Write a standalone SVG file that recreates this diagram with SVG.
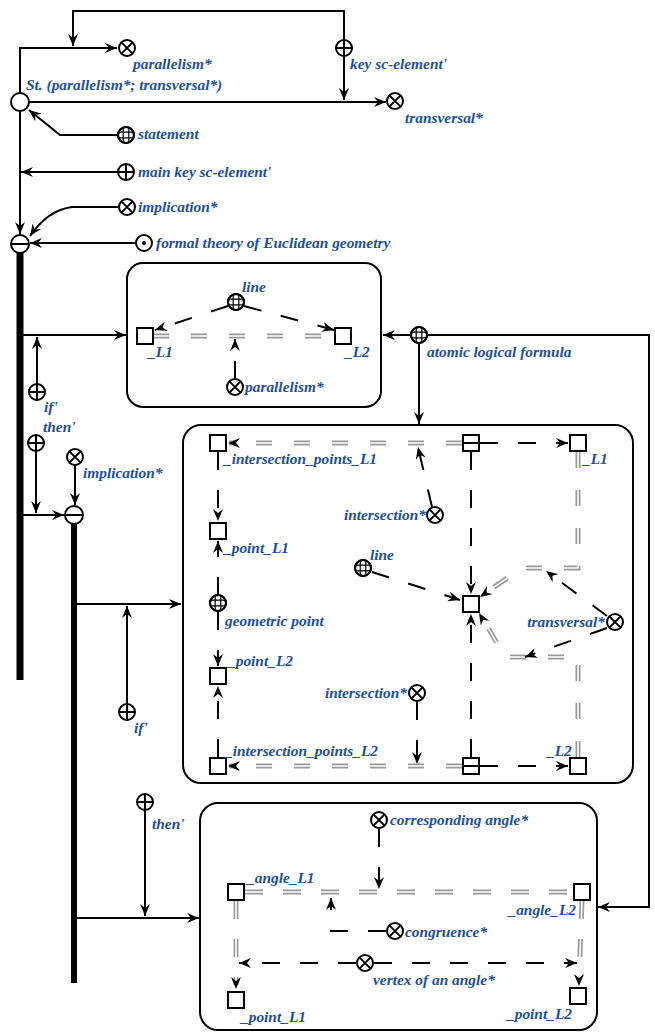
<svg xmlns="http://www.w3.org/2000/svg" xmlns:xlink="http://www.w3.org/1999/xlink" width="655" height="1034" viewBox="0 0 655 1034">
<style>
.ln{stroke:#000;stroke-width:2;fill:none}
.d{stroke-dasharray:18 20}
.gd{stroke-dasharray:16 22}
.g1{stroke:#999;stroke-width:5;fill:none}
.g2{stroke:#fff;stroke-width:1.6;fill:none}
.thick{stroke:#000;stroke-width:7;fill:none}
.box{fill:none;stroke:#000;stroke-width:2}
.nd{fill:#fff;stroke:#000;stroke-width:2}
.in{fill:none;stroke:#000;stroke-width:2}
.gr{fill:none;stroke:#000;stroke-width:1.2}
.t{font-family:"Liberation Serif",serif;font-style:italic;font-weight:bold;font-size:15.4px;fill:#1d4f9e}
.e{text-anchor:end}
.ah{stroke:none;fill:none}
</style>
<defs>
<marker id="a" viewBox="0 0 12 10" markerWidth="12" markerHeight="10" refX="12" refY="5" orient="auto" markerUnits="userSpaceOnUse">
<path d="M0,0 L12,5 L0,10 L4,5 z" fill="#000"/>
</marker>
<clipPath id="cc"><circle r="8"/></clipPath>
<g id="cx"><circle r="8" class="nd"/><path d="M-5.6,-5.6 L5.6,5.6 M5.6,-5.6 L-5.6,5.6" class="in"/></g>
<g id="cp"><circle r="8" class="nd"/><path d="M-8,0 H8 M0,-8 V8" class="in"/></g>
<g id="cg"><circle r="8" class="nd"/><path d="M-8,-2.8 H8 M-8,2.8 H8 M-2.8,-8 V8 M2.8,-8 V8" class="gr" clip-path="url(#cc)"/><circle r="8" fill="none" stroke="#000" stroke-width="2"/></g>
<g id="cd"><circle r="8" class="nd"/><circle r="2" fill="#000"/></g>
<g id="cm"><circle r="9" class="nd"/><path d="M-9,0 H9" class="in"/></g>
<g id="sq"><rect x="-8" y="-8" width="16" height="16" class="nd"/></g>
<g id="sqm"><rect x="-8" y="-8" width="16" height="16" class="nd"/><path d="M-8,0 H8" class="in"/></g>
</defs>

<g id="connectors">
<!-- top area -->
<path class="ln" d="M20,93 V48 H117" marker-end="url(#a)"/>
<path class="ln" d="M344,40 V11 H73 V46" marker-end="url(#a)"/>
<path class="ln" d="M29,102 H386" marker-end="url(#a)"/>
<path class="ln" d="M344,56 V100" marker-end="url(#a)"/>
<path class="ln" d="M118,135 H60 L29,110" marker-end="url(#a)"/>
<path class="ln" d="M118,172 H21" marker-end="url(#a)"/>
<path class="ln" d="M20,111 V234" marker-end="url(#a)"/>
<path class="ln" d="M119,207 H72 Q48,210 30,236" marker-end="url(#a)"/>
<path class="ln" d="M135,243 H30" marker-end="url(#a)"/>
<path class="thick" d="M20,253 V680"/>
<path class="ln" d="M20,335 H126" marker-end="url(#a)"/>
<path class="ln" d="M37,384 V337" marker-end="url(#a)"/>
<path class="ln" d="M36,451 V513" marker-end="url(#a)"/>
<path class="ln" d="M75,465 V505" marker-end="url(#a)"/>
<path class="ln" d="M20,515 H64" marker-end="url(#a)"/>
<path class="thick" style="stroke-width:6" d="M74,524 V983"/>
<path class="ln" d="M74,604 H181" marker-end="url(#a)"/>
<path class="ln" d="M127,704 V606" marker-end="url(#a)"/>
<path class="ln" d="M145,810 V916" marker-end="url(#a)"/>
<path class="ln" d="M74,918 H199" marker-end="url(#a)"/>
<path class="ln" d="M410,335 H383" marker-end="url(#a)"/>
<path class="ln" d="M428,335 H649 V907 H598" marker-end="url(#a)"/>
<path class="ln" d="M419,344 V424" marker-end="url(#a)"/>

<!-- box 1 -->
<path class="ln d" d="M228,306 L155,330" marker-end="url(#a)"/>
<path class="ln d" d="M244,306 L334,330" marker-end="url(#a)"/>
<path class="g1 gd" d="M153,336 H335"/>
<path class="g2 gd" d="M153,336 H335"/>
<path class="ln d" d="M235,379 V339" marker-end="url(#a)"/>

<!-- box 2 -->
<path class="g1 gd" d="M462,443 H229"/>
<path class="g2 gd" d="M462,443 H229"/>
<path class="ah" d="M240,443 H228" marker-end="url(#a)"/>
<path class="ln d" d="M480,443 H568" marker-end="url(#a)"/>
<path class="ln d" d="M218,452 V521" marker-end="url(#a)"/>
<path class="ln d" d="M218,595 V541" marker-end="url(#a)"/>
<path class="ln d" d="M218,612 V666" marker-end="url(#a)"/>
<path class="ln d" d="M218,757 V686" marker-end="url(#a)"/>
<path class="g1 gd" d="M462,766 H229"/>
<path class="g2 gd" d="M462,766 H229"/>
<path class="ah" d="M240,766 H228" marker-end="url(#a)"/>
<path class="ln d" d="M480,766 H568" marker-end="url(#a)"/>
<path class="ln d" d="M471,452 V594" marker-end="url(#a)"/>
<path class="ln d" d="M471,757 V614" marker-end="url(#a)"/>
<path class="ln d" d="M432,507 L418,447" marker-end="url(#a)"/>
<path class="ln d" d="M417,702 V764" marker-end="url(#a)"/>
<path class="ln d" d="M372,572 L460,600" marker-end="url(#a)"/>
<path class="g1 gd" d="M578,452 V568 H522 L481,596"/>
<path class="g2 gd" d="M578,452 V568 H522 L481,596"/>
<path class="ah" d="M490,590 L480,597" marker-end="url(#a)"/>
<path class="g1 gd" d="M578,757 V657 H505 L480,614"/>
<path class="g2 gd" d="M578,757 V657 H505 L480,614"/>
<path class="ah" d="M485,623 L479,613" marker-end="url(#a)"/>
<path class="ln d" d="M607,616 L546,571" marker-end="url(#a)"/>
<path class="ln d" d="M607,628 L525,657" marker-end="url(#a)"/>

<!-- box 3 -->
<path class="g1 d" d="M245,892 H573"/>
<path class="g2 d" d="M245,892 H573"/>
<path class="ln d" d="M379,829 V889" marker-end="url(#a)"/>
<path class="ln d" d="M386,931 H331 V898" marker-end="url(#a)"/>
<path class="ln d" d="M356,963 H239" marker-end="url(#a)"/>
<path class="ln d" d="M374,963 H577" marker-end="url(#a)"/>
<path class="g1 d" d="M236,901 V985"/>
<path class="g2 d" d="M236,901 V985"/>
<path class="ah" d="M236,978 V989" marker-end="url(#a)"/>
<path class="g1 d" d="M582,901 L579,980"/>
<path class="g2 d" d="M582,901 L579,980"/>
<path class="ah" d="M579,975 V986" marker-end="url(#a)"/>
</g>

<g id="box1"><rect x="127" y="263" width="254" height="144" rx="16" class="box"/></g>
<g id="box2"><rect x="183" y="425" width="450" height="358" rx="18" class="box"/></g>
<g id="box3"><rect x="200" y="803" width="397" height="227" rx="18" class="box"/></g>

<g id="n-st"><circle cx="20" cy="102" r="9" class="nd"/><text class="t" x="26" y="90">St. (parallelism*; transversal*)</text></g>
<g id="n-parallelism"><use xlink:href="#cx" href="#cx" x="127" y="48"/><text class="t" x="133" y="69">parallelism*</text></g>
<g id="n-key"><use xlink:href="#cp" href="#cp" x="344" y="48"/><text class="t" x="350" y="69">key sc-element'</text></g>
<g id="n-transversal"><use xlink:href="#cx" href="#cx" x="395" y="101"/><text class="t" x="405" y="123">transversal*</text></g>
<g id="n-statement"><use xlink:href="#cg" href="#cg" x="126" y="135"/><text class="t" x="138" y="139">statement</text></g>
<g id="n-mainkey"><use xlink:href="#cp" href="#cp" x="126" y="172"/><text class="t" x="138" y="177">main key sc-element'</text></g>
<g id="n-implication"><use xlink:href="#cx" href="#cx" x="127" y="207"/><text class="t" x="138" y="212">implication*</text></g>
<g id="n-formal"><use xlink:href="#cd" href="#cd" x="144" y="243"/><text class="t" x="156" y="248">formal theory of Euclidean geometry</text></g>
<g id="n-imp1"><use xlink:href="#cm" href="#cm" x="20" y="244"/></g>
<g id="n-if1"><use xlink:href="#cp" href="#cp" x="37" y="392"/><text class="t" x="44" y="412">if'</text></g>
<g id="n-then1"><use xlink:href="#cp" href="#cp" x="36" y="443"/><text class="t" x="43" y="432">then'</text></g>
<g id="n-implication2"><use xlink:href="#cx" href="#cx" x="75" y="457"/><text class="t" x="83" y="478">implication*</text></g>
<g id="n-imp2"><use xlink:href="#cm" href="#cm" x="74" y="515"/></g>
<g id="n-if2"><use xlink:href="#cp" href="#cp" x="127" y="712"/><text class="t" x="134" y="733">if'</text></g>
<g id="n-then2"><use xlink:href="#cp" href="#cp" x="145" y="802"/><text class="t" x="152" y="829">then'</text></g>
<g id="n-atomic"><use xlink:href="#cg" href="#cg" x="419" y="335"/><text class="t" x="427" y="357">atomic logical formula</text></g>

<g id="n-line1"><use xlink:href="#cg" href="#cg" x="236" y="302"/><text class="t" x="242" y="292">line</text></g>
<g id="n-L1a"><use xlink:href="#sq" href="#sq" x="145" y="336"/><text class="t" x="148" y="357">_L1</text></g>
<g id="n-L2a"><use xlink:href="#sq" href="#sq" x="343" y="336"/><text class="t" x="345" y="357">_L2</text></g>
<g id="n-parallelism2"><use xlink:href="#cx" href="#cx" x="235" y="387"/><text class="t" x="245" y="392">parallelism*</text></g>

<g id="n-ipL1"><use xlink:href="#sq" href="#sq" x="218" y="443"/><text class="t" x="224" y="464">_intersection_points_L1</text></g>
<g id="n-topmid"><use xlink:href="#sqm" href="#sqm" x="471" y="443"/></g>
<g id="n-L1b"><use xlink:href="#sq" href="#sq" x="578" y="443"/><text class="t" x="583" y="464">_L1</text></g>
<g id="n-pointL1"><use xlink:href="#sq" href="#sq" x="218" y="531"/><text class="t" x="224" y="553">_point_L1</text></g>
<g id="n-geo"><use xlink:href="#cg" href="#cg" x="218" y="603"/><text class="t" x="225" y="626">geometric point</text></g>
<g id="n-pointL2"><use xlink:href="#sq" href="#sq" x="218" y="676"/><text class="t" x="228" y="666">_point_L2</text></g>
<g id="n-ipL2"><use xlink:href="#sq" href="#sq" x="218" y="766"/><text class="t" x="225" y="756">_intersection_points_L2</text></g>
<g id="n-botmid"><use xlink:href="#sqm" href="#sqm" x="471" y="766"/></g>
<g id="n-L2b"><use xlink:href="#sq" href="#sq" x="578" y="766"/><text class="t" x="547" y="756">_L2</text></g>
<g id="n-center"><use xlink:href="#sq" href="#sq" x="471" y="604"/></g>
<g id="n-inter1"><use xlink:href="#cx" href="#cx" x="435" y="515"/><text class="t e" x="426" y="520">intersection*</text></g>
<g id="n-inter2"><use xlink:href="#cx" href="#cx" x="417" y="693"/><text class="t e" x="407" y="698">intersection*</text></g>
<g id="n-line2"><use xlink:href="#cg" href="#cg" x="363" y="568"/><text class="t" x="370" y="560">line</text></g>
<g id="n-transversal2"><use xlink:href="#cx" href="#cx" x="615" y="622"/><text class="t e" x="605" y="627">transversal*</text></g>

<g id="n-corr"><use xlink:href="#cx" href="#cx" x="379" y="820"/><text class="t" x="390" y="825">corresponding angle*</text></g>
<g id="n-angleL1"><use xlink:href="#sq" href="#sq" x="236" y="892"/><text class="t" x="247" y="883">_angle_L1</text></g>
<g id="n-angleL2"><use xlink:href="#sq" href="#sq" x="582" y="892"/><text class="t e" x="576" y="915">_angle_L2</text></g>
<g id="n-congruence"><use xlink:href="#cx" href="#cx" x="395" y="931"/><text class="t" x="405" y="937">congruence*</text></g>
<g id="n-vertex"><use xlink:href="#cx" href="#cx" x="365" y="963"/><text class="t" x="373" y="985">vertex of an angle*</text></g>
<g id="n-pointL1c"><use xlink:href="#sq" href="#sq" x="236" y="1000"/><text class="t" x="241" y="1022">_point_L1</text></g>
<g id="n-pointL2c"><use xlink:href="#sq" href="#sq" x="578" y="996"/><text class="t e" x="572" y="1019">_point_L2</text></g>
</svg>
